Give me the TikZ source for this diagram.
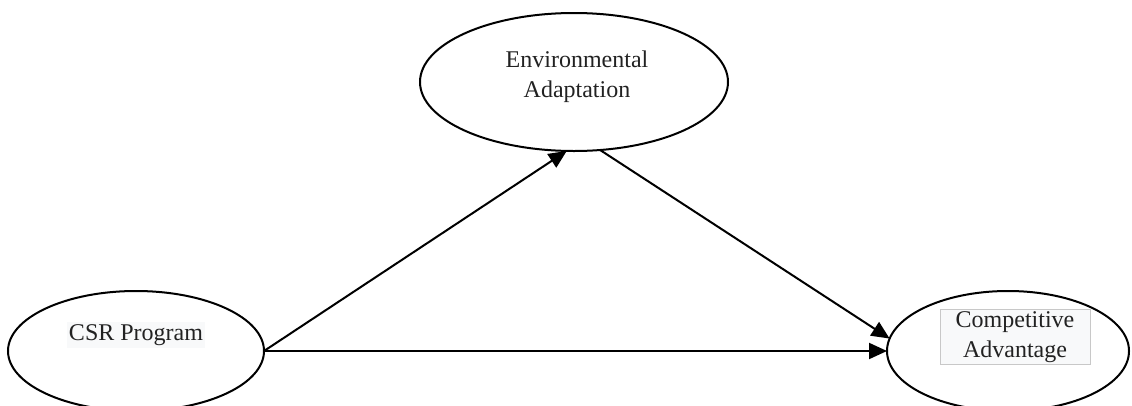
\documentclass[tikz,border=0pt]{standalone}
\usepackage{fontspec}
\setmainfont{Liberation Serif}
\usetikzlibrary{shapes.geometric,arrows.meta}
\definecolor{txtbg}{HTML}{F8F9FA}
\definecolor{txtborder}{HTML}{C8C8C8}
\definecolor{txtcol}{HTML}{222222}
\tikzset{
  oval/.style={ellipse,draw=black,line width=2pt,inner sep=0pt,outer sep=0pt},
  lbl/.style={font=\fontsize{24}{30}\selectfont,text=txtcol,align=center,inner sep=2pt},
  conn/.style={line width=2pt,-{Triangle[length=18pt,width=16pt]}}
}
\begin{document}
\begin{tikzpicture}[x=1pt,y=-1pt]
\useasboundingbox (0,0) rectangle (1132,405);
\node[oval,minimum width=256pt,minimum height=120pt] (csr) at (136,351) {};
\node[oval,minimum width=308pt,minimum height=138pt] (ea) at (574,82) {};
\node[oval,minimum width=242pt,minimum height=120pt] (ca) at (1008,351) {};
\node[lbl,fill=txtbg] (t1) at (136,335) {CSR Program};
\node[lbl] (t2) at (577,77) {Environmental\\Adaptation};
\node[lbl,fill=txtbg,draw=txtborder,line width=0.8pt,minimum width=150pt,minimum height=55pt] (t3) at (1015,337) {Competitive\\Advantage};
\draw[conn] (csr.east) -- (ea.-96);
\draw[conn] (ea.-69) -- (ca.174);
\draw[conn] (csr.east) -- (ca.west);
\end{tikzpicture}
\end{document}
